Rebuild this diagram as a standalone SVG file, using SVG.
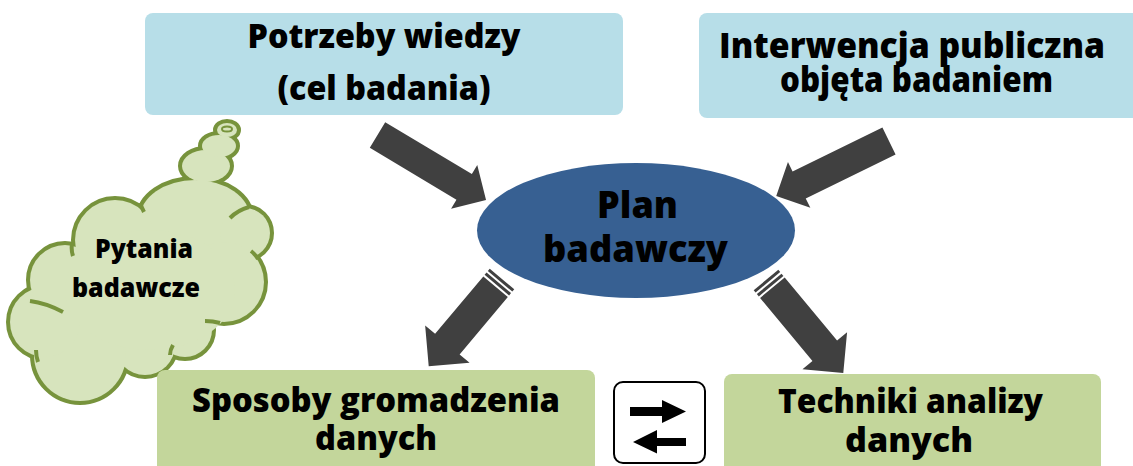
<svg xmlns="http://www.w3.org/2000/svg" width="1133" height="466" viewBox="0 0 1133 466">
<defs>
<style>
.t{font-family:"Open Sans","Noto Sans","Liberation Sans",sans-serif;font-weight:800;fill:#000;text-anchor:middle}
.blue{fill:#b7dee8}
.green{fill:#c3d69b}
.arr{fill:#404040}
.co{fill:#d7e4bd;stroke:#77933c;stroke-width:8}
.cf{fill:#d7e4bd}
.stub{fill:none;stroke:#77933c;stroke-width:4}
</style>
</defs>
<rect width="1133" height="466" fill="#fff"/>
<g id="connectors">
<polygon class="arr" transform="translate(377.5,135) rotate(30.9)" points="0,-15 101,-15 101,-25.5 126.5,0 101,25.5 101,15 0,15"/>
<polygon class="arr" transform="translate(889,141) rotate(153.95)" points="0,-15 100,-15 100,-25.5 125.5,0 100,25.5 100,15 0,15"/>
<g transform="translate(502,279) rotate(130)">
<rect class="arr" x="0" y="-16" width="3" height="32"/>
<rect class="arr" x="5" y="-16" width="3" height="32"/>
<polygon class="arr" points="10,-16 85,-16 85,-29 114,0 85,29 85,16 10,16"/>
</g>
<g transform="translate(766,280) rotate(50.3)">
<rect class="arr" x="0" y="-16" width="3" height="32"/>
<rect class="arr" x="5" y="-16" width="3" height="32"/>
<polygon class="arr" points="10,-16 92,-16 92,-29 121,0 92,29 92,16 10,16"/>
</g>
</g>
<g id="node-potrzeby">
<rect class="blue" x="145" y="13" width="478" height="102" rx="8"/>
<text class="t" x="384" y="48" font-size="33" textLength="273" lengthAdjust="spacingAndGlyphs">Potrzeby wiedzy</text>
<text class="t" x="384" y="100" font-size="33" textLength="213" lengthAdjust="spacingAndGlyphs">(cel badania)</text>
</g>
<g id="node-interwencja">
<rect class="blue" x="699" y="13" width="460" height="105" rx="8"/>
<text class="t" x="912" y="58" font-size="36" textLength="386" lengthAdjust="spacingAndGlyphs">Interwencja publiczna</text>
<text class="t" x="916.5" y="92" font-size="36" textLength="273" lengthAdjust="spacingAndGlyphs">objęta badaniem</text>
</g>
<g id="node-plan">
<ellipse cx="636" cy="230.5" rx="159" ry="67.5" fill="#376092"/>
<text class="t" x="637.5" y="218" font-size="37" textLength="81" lengthAdjust="spacingAndGlyphs">Plan</text>
<text class="t" x="635.5" y="262" font-size="37" textLength="185" lengthAdjust="spacingAndGlyphs">badawczy</text>
</g>
<g id="node-pytania">
<g>
<ellipse class="co" cx="206" cy="166" rx="24" ry="16"/>
<ellipse class="co" cx="219" cy="146" rx="17" ry="11"/>
<ellipse class="co" cx="227" cy="130" rx="10" ry="7"/>
<ellipse class="co" cx="195" cy="218" rx="55" ry="38"/>
<circle class="co" cx="245" cy="233" r="25"/>
<circle class="co" cx="224" cy="282" r="40"/>
<circle class="co" cx="185" cy="330" r="27"/>
<circle class="co" cx="145" cy="345" r="30"/>
<circle class="co" cx="80" cy="355" r="46"/>
<circle class="co" cx="45" cy="322" r="35"/>
<circle class="co" cx="65" cy="280" r="35"/>
<circle class="co" cx="115" cy="240" r="40"/>
</g>
<g>
<ellipse class="cf" cx="206" cy="166" rx="24" ry="16"/>
<ellipse class="cf" cx="219" cy="146" rx="17" ry="11"/>
<ellipse class="cf" cx="227" cy="130" rx="10" ry="7"/>
<ellipse class="cf" cx="195" cy="218" rx="55" ry="38"/>
<circle class="cf" cx="245" cy="233" r="25"/>
<circle class="cf" cx="224" cy="282" r="40"/>
<circle class="cf" cx="185" cy="330" r="27"/>
<circle class="cf" cx="145" cy="345" r="30"/>
<circle class="cf" cx="80" cy="355" r="46"/>
<circle class="cf" cx="45" cy="322" r="35"/>
<circle class="cf" cx="65" cy="280" r="35"/>
<circle class="cf" cx="115" cy="240" r="40"/>
<ellipse class="cf" cx="150" cy="290" rx="85" ry="60"/>
</g>
<path class="stub" d="M72,244 Q71,250 73,256"/>
<path class="stub" d="M30,301 Q46,303 63,312"/>
<path class="stub" d="M36,350 Q36,356 38,362"/>
<path class="stub" d="M170,355 Q170,350 173,345"/>
<path class="stub" d="M205,321 Q213,321 220,323"/>
<path class="stub" d="M251,251 Q255,254 258,259"/>
<path class="stub" d="M249,207 Q238,210 230,218"/>
<path class="stub" d="M140,203 Q142,208 144,212"/>
<ellipse cx="227" cy="129" rx="5" ry="2.5" fill="none" stroke="#77933c" stroke-width="2"/>
<text class="t" x="144" y="258" font-size="26" textLength="98" lengthAdjust="spacingAndGlyphs">Pytania</text>
<text class="t" x="136" y="297" font-size="26" textLength="128" lengthAdjust="spacingAndGlyphs">badawcze</text>
</g>
<g id="node-sposoby">
<rect class="green" x="157" y="370" width="438" height="110" rx="8"/>
<text class="t" x="376" y="412" font-size="34" textLength="368" lengthAdjust="spacingAndGlyphs">Sposoby gromadzenia</text>
<text class="t" x="376" y="450" font-size="34" textLength="122" lengthAdjust="spacingAndGlyphs">danych</text>
</g>
<g id="node-techniki">
<rect class="green" x="724" y="374" width="377" height="110" rx="8"/>
<text class="t" x="910.5" y="413" font-size="33" textLength="265" lengthAdjust="spacingAndGlyphs">Techniki analizy</text>
<text class="t" x="909" y="452" font-size="33" textLength="128" lengthAdjust="spacingAndGlyphs">danych</text>
</g>
<g id="node-exchange">
<rect x="614" y="382" width="91" height="81" rx="9" fill="#fff" stroke="#000" stroke-width="2"/>
<polygon fill="#000" points="630,407 662,407 662,400 686,411.5 662,423 662,416 630,416"/>
<polygon fill="#000" points="686,438 657,438 657,430 633,442 657,453.5 657,446 686,446"/>
</g>
</svg>
